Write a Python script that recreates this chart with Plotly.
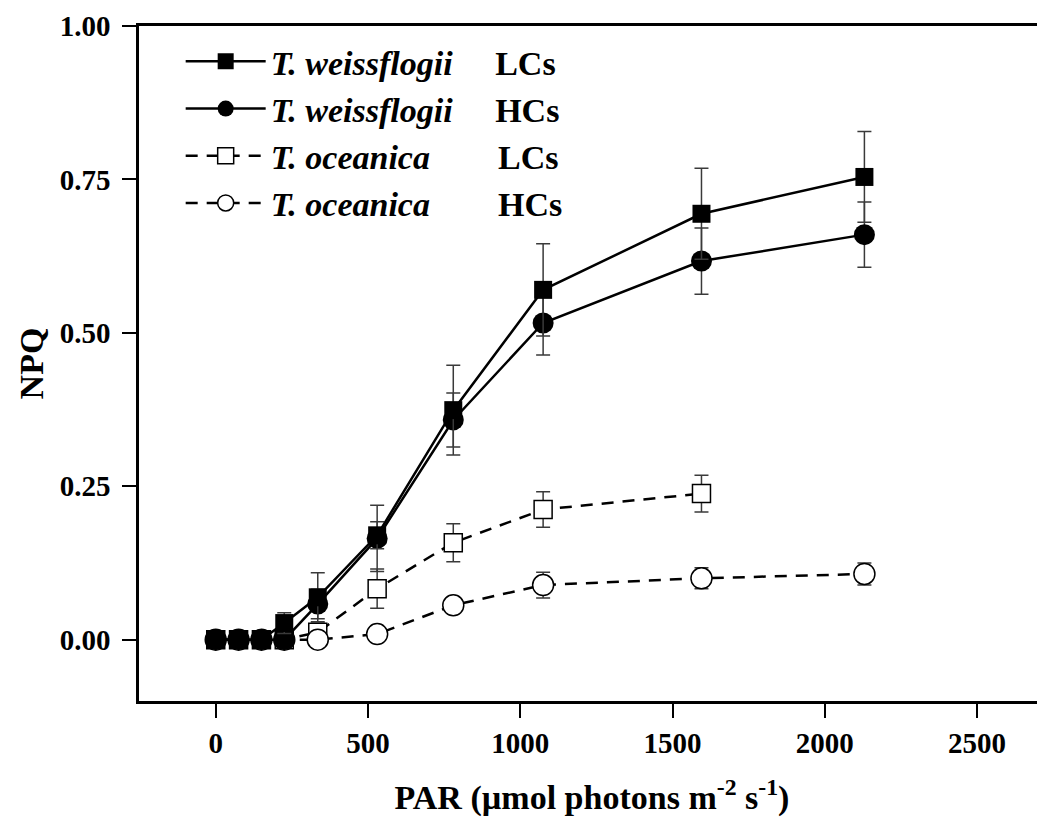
import plotly.graph_objects as go

# ---- data ----
par = [0, 75, 150, 225, 335, 530, 780, 1075, 1595, 2130]

tw_lc = [0.0, 0.0, 0.0, 0.027, 0.069, 0.170, 0.374, 0.570, 0.694, 0.754]
tw_lc_err = [0.003, 0.003, 0.003, 0.017, 0.040, 0.022, 0.073, 0.075, 0.074, 0.074]

tw_hc = [0.0, 0.0, 0.0, 0.0, 0.058, 0.165, 0.358, 0.516, 0.617, 0.660]
tw_hc_err = [0.003, 0.003, 0.003, 0.003, 0.024, 0.054, 0.044, 0.052, 0.054, 0.053]

to_lc = [0.0, 0.0, 0.0, 0.0, 0.012, 0.083, 0.158, 0.212, 0.238, None]
to_lc_err = [0.0, 0.0, 0.0, 0.0, 0.015, 0.032, 0.031, 0.029, 0.030, None]

to_hc = [0.0, 0.0, 0.0, 0.0, 0.0, 0.009, 0.056, 0.089, 0.100, 0.107]
to_hc_err = [0.0, 0.0, 0.0, 0.0, 0.003, 0.010, 0.010, 0.021, 0.017, 0.018]

x_ticks = [0, 500, 1000, 1500, 2000, 2500]
y_ticks = [0.0, 0.25, 0.50, 0.75, 1.00]

FONT = "Liberation Serif"
NB = "\u00a0"

def err(arr):
    return dict(type="data", array=arr, visible=True, color="#3a3a3a",
                thickness=1.5, width=7)

fig = go.Figure()

# T. oceanica (drawn first, underneath)
fig.add_trace(go.Scatter(
    x=par, y=to_lc, error_y=err(to_lc_err), mode="lines+markers",
    name="<b><i>T. oceanica</i>" + NB * 8 + "LCs</b>", legendrank=3,
    line=dict(color="black", width=2.5, dash="12px,9px"),
    marker=dict(symbol="square", size=18, color="white",
                line=dict(color="black", width=1.5)),
))
fig.add_trace(go.Scatter(
    x=par, y=to_hc, error_y=err(to_hc_err), mode="lines+markers",
    name="<b><i>T. oceanica</i>" + NB * 8 + "HCs</b>", legendrank=4,
    line=dict(color="black", width=2.5, dash="12px,9px"),
    marker=dict(symbol="circle", size=21, color="white",
                line=dict(color="black", width=1.5)),
))
# T. weissflogii
fig.add_trace(go.Scatter(
    x=par, y=tw_hc, error_y=err(tw_hc_err), mode="lines+markers",
    name="<b><i>T. weissflogii</i>" + NB * 5 + "HCs</b>", legendrank=2,
    line=dict(color="black", width=2.5),
    marker=dict(symbol="circle", size=21, color="black",
                line=dict(color="black", width=0)),
))
fig.add_trace(go.Scatter(
    x=par, y=tw_lc, error_y=err(tw_lc_err), mode="lines+markers",
    name="<b><i>T. weissflogii</i>" + NB * 5 + "LCs</b>", legendrank=1,
    line=dict(color="black", width=2.5),
    marker=dict(symbol="square", size=18, color="black",
                line=dict(color="black", width=0)),
))

fig.update_layout(
    width=1037, height=831,
    margin=dict(l=131, r=0, t=18, b=138),
    paper_bgcolor="white", plot_bgcolor="white",
    font=dict(family=FONT, color="black"),
    showlegend=True,
    legend=dict(x=0.046, y=0.99, xanchor="left", yanchor="top",
                bgcolor="rgba(0,0,0,0)", borderwidth=0,
                font=dict(family=FONT, size=34, color="black"),
                itemsizing="trace", itemwidth=80, tracegroupgap=0),
    xaxis=dict(
        range=[-252, 2723], tickvals=x_ticks, ticktext=[str(v) for v in x_ticks],
        showgrid=False, zeroline=False,
        showline=True, linecolor="black", linewidth=2.5, mirror=True,
        ticks="outside", ticklen=14, tickwidth=2, tickcolor="black",
        tickfont=dict(family=FONT, size=29, color="black", weight="bold"),
        title=dict(text="<b>PAR (µmol photons m<sup>-2</sup> s<sup>-1</sup>)</b>",
                   font=dict(family=FONT, size=34, color="black"), standoff=28),
    ),
    yaxis=dict(
        range=[-0.1, 1.0], tickvals=y_ticks, tickformat=".2f",
        showgrid=False, zeroline=False,
        showline=True, linecolor="black", linewidth=2.5, mirror=False,
        ticks="outside", ticklen=14, tickwidth=2, tickcolor="black",
        ticklabelstandoff=6,
        tickfont=dict(family=FONT, size=29, color="black", weight="bold"),
        title=dict(text="<b>NPQ</b>",
                   font=dict(family=FONT, size=34, color="black"), standoff=6),
    ),
)

fig.write_html("out.html")
